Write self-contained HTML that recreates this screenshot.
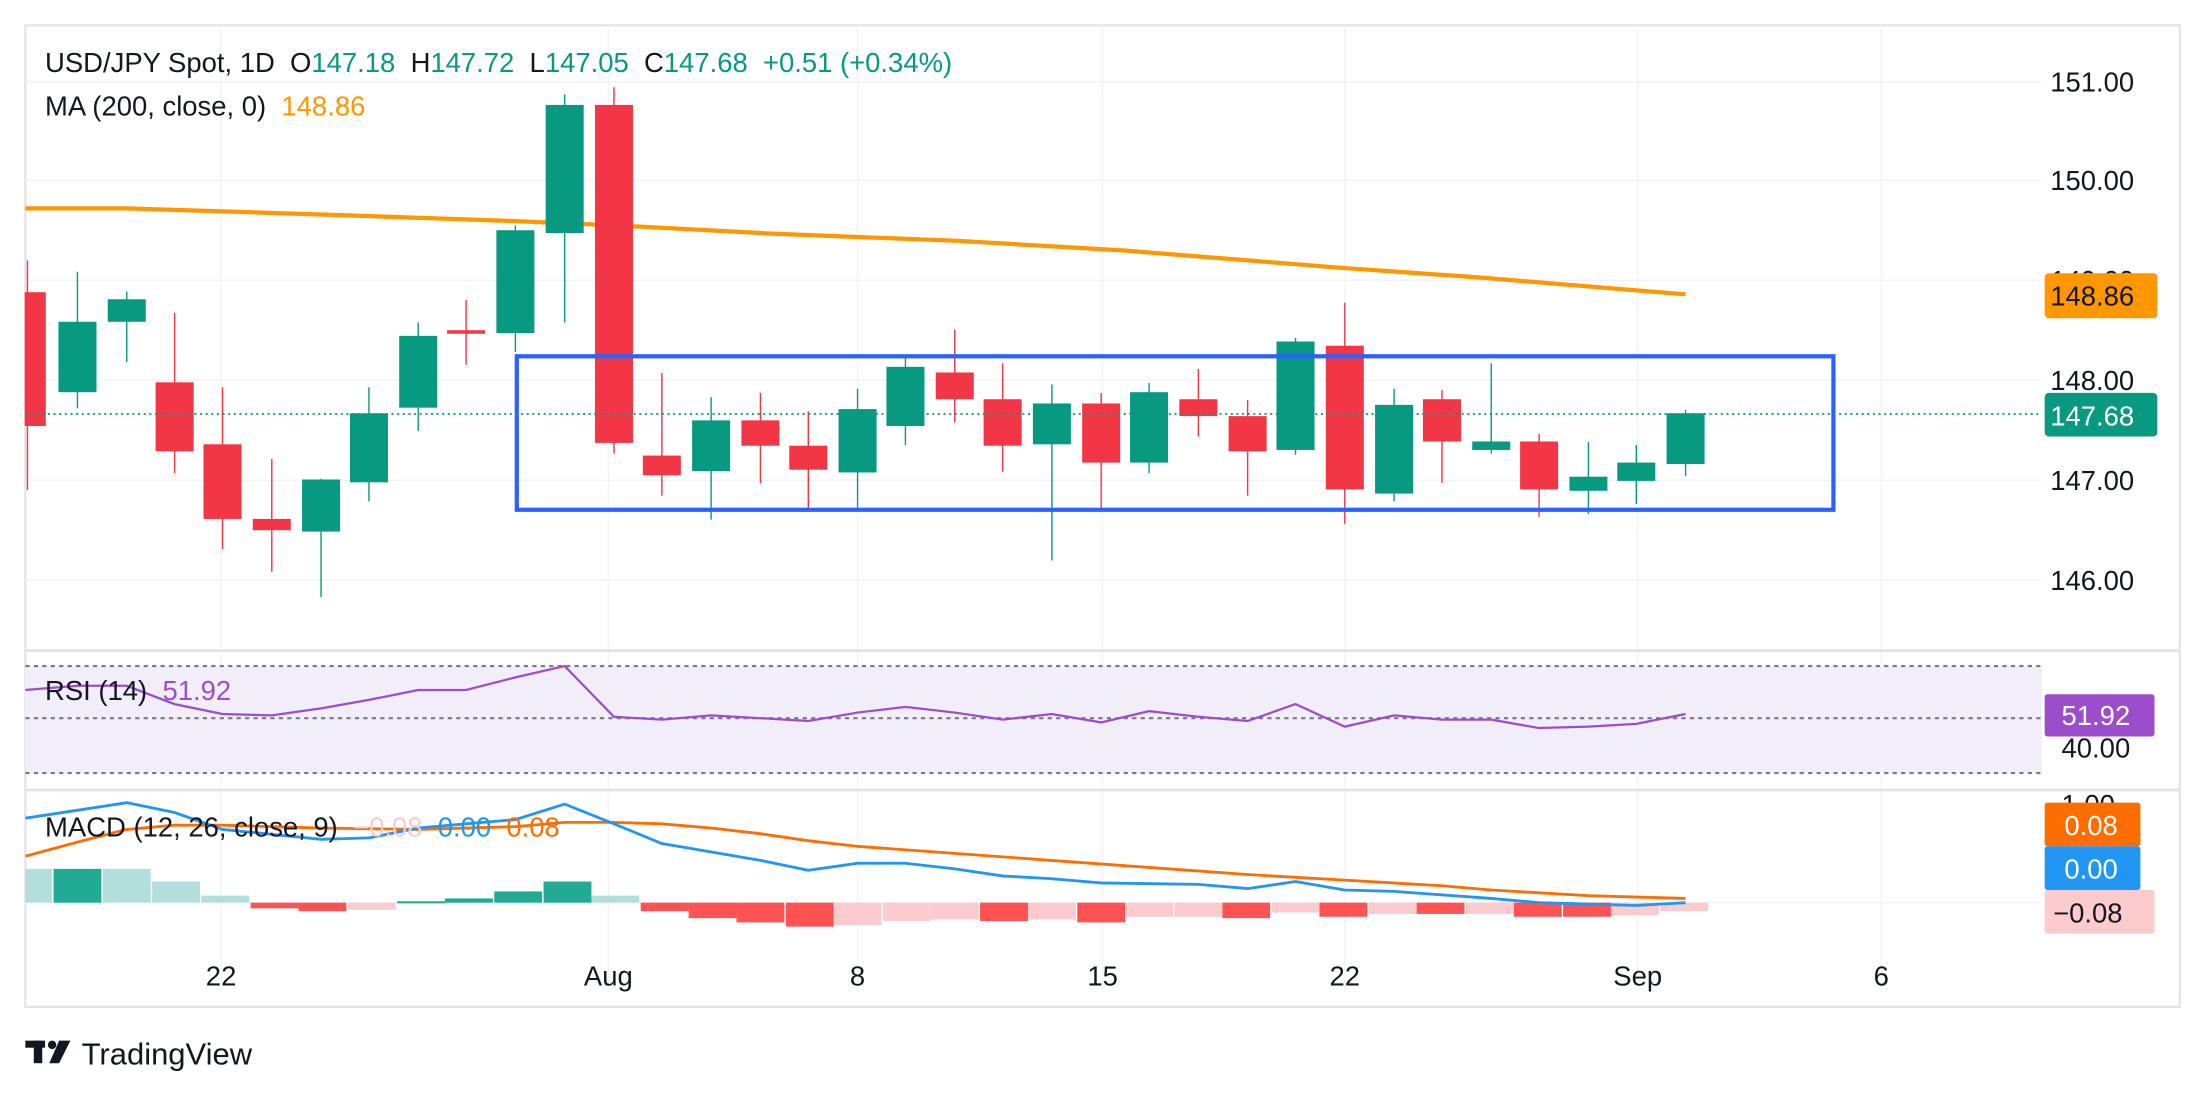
<!DOCTYPE html>
<html><head><meta charset="utf-8"><style>
html,body{margin:0;padding:0;background:#fff;}
svg{display:block;font-family:"Liberation Sans","DejaVu Sans",sans-serif;}
text{white-space:pre;}
</style></head><body>
<svg width="2208" height="1097" viewBox="0 0 1568 779" preserveAspectRatio="none" xmlns="http://www.w3.org/2000/svg">
<rect width="1568" height="779" fill="#fff"/>
<rect x="18" y="18" width="1530" height="697" fill="none" stroke="#e0e3eb" stroke-width="1.5"/>
<g stroke="#f0f3fa" stroke-width="1">
<line x1="18" y1="58" x2="1450" y2="58"/><line x1="18" y1="128" x2="1450" y2="128"/>
<line x1="18" y1="199" x2="1450" y2="199"/><line x1="18" y1="270" x2="1450" y2="270"/>
<line x1="18" y1="341" x2="1450" y2="341"/><line x1="18" y1="412" x2="1450" y2="412"/>
<line x1="157" y1="18" x2="157" y2="705"/><line x1="432" y1="18" x2="432" y2="705"/>
<line x1="609" y1="18" x2="609" y2="705"/><line x1="783" y1="18" x2="783" y2="705"/>
<line x1="955" y1="18" x2="955" y2="705"/><line x1="1163" y1="18" x2="1163" y2="705"/>
<line x1="1336" y1="18" x2="1336" y2="705"/>
</g>
<line x1="18" y1="462" x2="1548" y2="462" stroke="#e0e3eb" stroke-width="2"/>
<line x1="18" y1="561" x2="1548" y2="561" stroke="#e0e3eb" stroke-width="2"/>

<polyline fill="none" stroke="#ff9800" stroke-width="3" points="18,148 90,148 250,153 366,157 436,160 550,166 680,171 800,178 950,190 1050,197 1197,209"/>

<g>
<g stroke="#f23645" fill="#f23645">
<line x1="19.5" y1="185" x2="19.5" y2="348"/><rect x="18" y="208" width="14" height="94"/>
<line x1="124" y1="222" x2="124" y2="336"/><rect x="111" y="272" width="26" height="48"/>
<line x1="158" y1="275" x2="158" y2="390"/><rect x="145" y="316" width="26" height="52"/>
<line x1="193" y1="326" x2="193" y2="406"/><rect x="180" y="369" width="26" height="7"/>
<line x1="331" y1="213" x2="331" y2="259"/><rect x="318" y="235" width="26" height="1.5"/>
<line x1="436" y1="62" x2="436" y2="322"/><rect x="423" y="75" width="26" height="239"/>
<line x1="470" y1="265" x2="470" y2="352"/><rect x="457" y="324" width="26" height="13"/>
<line x1="540" y1="279" x2="540" y2="343"/><rect x="527" y="299" width="26" height="17"/>
<line x1="574" y1="292" x2="574" y2="362"/><rect x="561" y="317" width="26" height="16"/>
<line x1="678" y1="234" x2="678" y2="300"/><rect x="665" y="265" width="26" height="18"/>
<line x1="712" y1="258" x2="712" y2="335"/><rect x="699" y="284" width="26" height="32"/>
<line x1="782" y1="279" x2="782" y2="362"/><rect x="769" y="287" width="26" height="41"/>
<line x1="851" y1="262" x2="851" y2="310"/><rect x="838" y="284" width="26" height="11"/>
<line x1="886" y1="284" x2="886" y2="352"/><rect x="873" y="296" width="26" height="24"/>
<line x1="955" y1="215" x2="955" y2="372"/><rect x="942" y="246" width="26" height="101"/>
<line x1="1024" y1="277" x2="1024" y2="343"/><rect x="1011" y="284" width="26" height="29"/>
<line x1="1093" y1="308" x2="1093" y2="367"/><rect x="1080" y="314" width="26" height="33"/>
</g>
<g stroke="#089981" fill="#089981">
<line x1="55" y1="193" x2="55" y2="290"/><rect x="42" y="229" width="26" height="49"/>
<line x1="90" y1="207" x2="90" y2="257"/><rect x="77" y="213" width="26" height="15"/>
<line x1="228" y1="340" x2="228" y2="424"/><rect x="215" y="341" width="26" height="36"/>
<line x1="262" y1="275" x2="262" y2="356"/><rect x="249" y="294" width="26" height="48"/>
<line x1="297" y1="229" x2="297" y2="306"/><rect x="284" y="239" width="26" height="50"/>
<line x1="366" y1="160" x2="366" y2="250"/><rect x="353" y="164" width="26" height="72"/>
<line x1="401" y1="67" x2="401" y2="229"/><rect x="388" y="75" width="26" height="90"/>
<line x1="505" y1="282" x2="505" y2="369"/><rect x="492" y="299" width="26" height="35"/>
<line x1="609" y1="276" x2="609" y2="362"/><rect x="596" y="291" width="26" height="44"/>
<line x1="643" y1="254" x2="643" y2="316"/><rect x="630" y="261" width="26" height="41"/>
<line x1="747" y1="273" x2="747" y2="398"/><rect x="734" y="287" width="26" height="28"/>
<line x1="816" y1="272" x2="816" y2="336"/><rect x="803" y="279" width="26" height="49"/>
<line x1="920" y1="240" x2="920" y2="323"/><rect x="907" y="243" width="26" height="76"/>
<line x1="990" y1="276" x2="990" y2="356"/><rect x="977" y="288" width="26" height="62"/>
<line x1="1059" y1="258" x2="1059" y2="322"/><rect x="1046" y="314" width="26" height="5"/>
<line x1="1128" y1="314" x2="1128" y2="365"/><rect x="1115" y="339" width="26" height="9"/>
<line x1="1162" y1="316" x2="1162" y2="358"/><rect x="1149" y="329" width="26" height="12"/>
<line x1="1197" y1="291" x2="1197" y2="338"/><rect x="1184" y="294" width="26" height="35"/>
</g>
</g>
<rect x="367" y="253" width="935" height="109" fill="none" stroke="#2962ff" stroke-width="3"/>
<line x1="18" y1="294" x2="1450" y2="294" stroke="#089981" stroke-width="1.2" stroke-dasharray="1.5,2.5"/>

<text x="32" y="51" font-size="19.5" fill="#131722">USD/JPY Spot, 1D  O<tspan fill="#089981">147.18</tspan>  H<tspan fill="#089981">147.72</tspan>  L<tspan fill="#089981">147.05</tspan>  C<tspan fill="#089981">147.68</tspan>  <tspan fill="#089981">+0.51 (+0.34%)</tspan></text>
<text x="32" y="82" font-size="19.5" fill="#131722">MA (200, close, 0)  <tspan fill="#ff9800">148.86</tspan></text>

<g font-size="19.5" fill="#131722">
<text x="1456" y="65">151.00</text><text x="1456" y="135">150.00</text>
<text x="1456" y="206">149.00</text><text x="1456" y="277">148.00</text>
<text x="1456" y="348">147.00</text><text x="1456" y="419">146.00</text>
</g>
<rect x="1452" y="194" width="80" height="32" rx="3" fill="#ff9800"/>
<text x="1456" y="217" font-size="19.5" fill="#131722">148.86</text>
<rect x="1452" y="279" width="80" height="31" rx="3" fill="#089981"/>
<text x="1456" y="302" font-size="19.5" fill="#fff">147.68</text>

<rect x="18" y="473" width="1432" height="76" fill="#f2eef9"/>
<g stroke="#787b86" stroke-width="1.5" stroke-dasharray="3,3">
<line x1="18" y1="473" x2="1450" y2="473"/><line x1="18" y1="510" x2="1450" y2="510"/><line x1="18" y1="549" x2="1450" y2="549"/>
</g>
<polyline fill="none" stroke="#9c4dcc" stroke-width="1.6" points="18,490 55,487 90,487 124,500 158,507 193,508 228,503 262,497 297,490 331,490 366,481 401,473 436,509 470,511 505,508 540,510 574,512 609,506 643,502 678,506 712,511 747,507 782,513 816,505 851,509 886,512 920,500 955,516 990,508 1024,511 1059,511 1093,517 1128,516 1162,514 1197,507"/>
<text x="32" y="497" font-size="19.5" fill="#131722">RSI (14)  <tspan fill="#9c4dcc">51.92</tspan></text>
<rect x="1452" y="493" width="78" height="30" rx="2" fill="#9c4dcc"/>
<text x="1464" y="515" font-size="19.5" fill="#fff">51.92</text>
<text x="1464" y="538" font-size="19.5" fill="#131722">40.00</text>

<line x1="18" y1="641" x2="1450" y2="641" stroke="#f0f3fa"/>
<g fill="#b2dfdb">
<rect x="18" y="617" width="19" height="24"/><rect x="73" y="617" width="34" height="24"/><rect x="108" y="626" width="34" height="15"/><rect x="143" y="636" width="34" height="5"/><rect x="420" y="636" width="34" height="5"/>
</g>
<g fill="#22ab94">
<rect x="38" y="617" width="34" height="24"/><rect x="282" y="640" width="34" height="1.5"/><rect x="316" y="638" width="34" height="3"/><rect x="351" y="633" width="34" height="8"/><rect x="386" y="626" width="34" height="15"/>
</g>
<g fill="#ff5252">
<rect x="178" y="641" width="34" height="4"/><rect x="212" y="641" width="34" height="6"/><rect x="455" y="641" width="34" height="6"/><rect x="489" y="641" width="34" height="11"/><rect x="523" y="641" width="34" height="14"/><rect x="558" y="641" width="34" height="17"/><rect x="696" y="641" width="34" height="13"/><rect x="765" y="641" width="34" height="14"/><rect x="868" y="641" width="34" height="11"/><rect x="937" y="641" width="34" height="10"/><rect x="1006" y="641" width="34" height="8"/><rect x="1075" y="641" width="34" height="10"/><rect x="1110" y="641" width="34" height="10"/>
</g>
<g fill="#fccbcd">
<rect x="247" y="641" width="34" height="5"/><rect x="592" y="641" width="34" height="16"/><rect x="627" y="641" width="34" height="13"/><rect x="661" y="641" width="34" height="12"/><rect x="730" y="641" width="34" height="12"/><rect x="799" y="641" width="34" height="10"/><rect x="834" y="641" width="34" height="10"/><rect x="903" y="641" width="34" height="7"/><rect x="972" y="641" width="34" height="8"/><rect x="1041" y="641" width="34" height="8"/><rect x="1144" y="641" width="34" height="9"/><rect x="1179" y="641" width="34" height="6"/>
</g>
<polyline fill="none" stroke="#ff6d00" stroke-width="2" points="18,608 55,598 90,589 124,586 158,586 228,588 297,589 366,587 401,584 436,584 470,585 505,588 540,592 574,597 609,601 678,606 747,611 816,616 886,621 920,623 955,625 1024,629 1059,632 1093,634 1128,636 1162,637 1197,638"/>
<polyline fill="none" stroke="#2196f3" stroke-width="2" points="18,581 90,570 124,577 158,589 228,596 262,595 297,588 331,585 366,582 401,571 436,585 470,599 540,611 574,618 609,613 643,613 678,617 712,622 747,624 782,627 851,628 886,631 920,626 955,632 990,633 1059,638 1093,641 1128,642 1162,643 1197,641"/>
<text x="32" y="594" font-size="19.5" fill="#131722">MACD (12, 26, close, 9)  <tspan fill="#fccbcd">−0.08</tspan>  <tspan fill="#2196f3">0.00</tspan>  <tspan fill="#ff6d00">0.08</tspan></text>
<text x="1464" y="578" font-size="19.5" fill="#131722">1.00</text>
<rect x="1452" y="570" width="68" height="31" rx="2" fill="#ff6d00"/>
<text x="1466" y="593" font-size="19.5" fill="#fff">0.08</text>
<rect x="1452" y="601" width="68" height="31" rx="2" fill="#2196f3"/>
<text x="1466" y="624" font-size="19.5" fill="#fff">0.00</text>
<rect x="1452" y="632" width="78" height="31" rx="2" fill="#fccbcd"/>
<text x="1458" y="655" font-size="19.5" fill="#131722">−0.08</text>

<g font-size="19.5" fill="#131722" text-anchor="middle">
<text x="157" y="700">22</text><text x="432" y="700">Aug</text><text x="609" y="700">8</text>
<text x="783" y="700">15</text><text x="955" y="700">22</text><text x="1163" y="700">Sep</text><text x="1336" y="700">6</text>
</g>

<g fill="#131722">
<rect x="18" y="739" width="14" height="5"/><rect x="24" y="739" width="6" height="16"/>
<circle cx="37" cy="742" r="3"/><polygon points="42,739 50,739 42,755 35,755"/>
</g>
<text x="58" y="756" font-size="22" fill="#131722">TradingView</text>
</svg>
</body></html>
